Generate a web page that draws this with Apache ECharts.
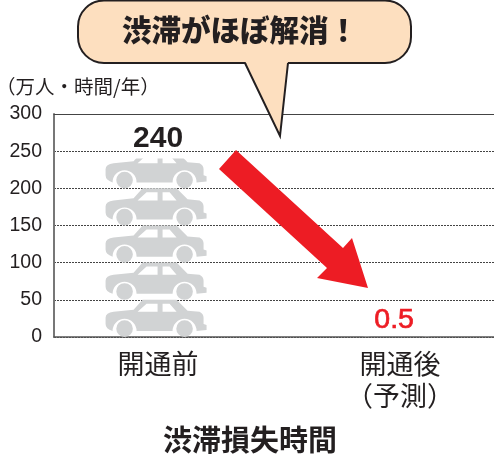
<!DOCTYPE html>
<html>
<head>
<meta charset="utf-8">
<style>html,body{margin:0;padding:0;background:#fff}#chart{width:494px;height:456px}</style>
<script src="https://cdn.jsdelivr.net/npm/echarts@6/dist/echarts.min.js"></script>
</head>
<body>
<div id="chart"></div>
<script>
var categories = ['開通前', '開通後\n（予測）'];
var categoryPos = [0, 1];
var values = [240, 0.5];
var yTicks = [0, 50, 100, 150, 200, 250, 300];

var inkColor = '#231f20';
var redColor = '#ed1c24';
var jpFont = '"Noto Sans CJK JP"';

// car icon, windows are wound the other way so they come out as holes
var carPath = 'path://M0,18 Q0,13 8,12 L28,10 L37,0 L71,0 L82,11 L94,12 Q98,14 98,18 L98,24 L101,25 L101,30 L91,31 ' +
    'A12,12 0 0 0 67,31 L31,31 A12,12 0 0 0 7,31 Q0,29 0,24 Z ' +
    'M32,12 L52,12 L52,4 L41,4 Z M57,12 L71,12 L64,4 L57,4 Z ' +
    'M10.7,28.7 A8.3,8.3 0 1 0 27.3,28.7 A8.3,8.3 0 1 0 10.7,28.7 Z ' +
    'M70.7,28.7 A8.3,8.3 0 1 0 87.3,28.7 A8.3,8.3 0 1 0 70.7,28.7 Z';

var seriesData = categoryPos.map(function (pos, i) {
    return {
        value: [pos, values[i]],
        // the label sits on the whole symbol, so it has to be pulled back down
        label: i === 0
            ? {color: inkColor, fontSize: 30, fontWeight: 'bold', distance: 4, offset: [0, 7]}
            : {color: redColor, fontSize: 28.5, textBorderColor: redColor, textBorderWidth: 0.7, distance: 1, offset: [-6, 36]}
    };
});

var myChart = echarts.init(document.getElementById('chart'), null, {renderer: 'canvas'});

myChart.setOption({
    animation: false,
    backgroundColor: '#fff',
    title: {
        text: '渋滞損失時間',
        left: 245,
        textAlign: 'center',
        top: 420,
        textStyle: {fontFamily: jpFont, fontSize: 29, fontWeight: 'bold', color: inkColor}
    },
    grid: {left: 54, right: 0, top: 114, bottom: 119, outerBoundsMode: 'none'},
    xAxis: [{
        type: 'value',
        min: -0.43,
        max: 1.388,
        splitLine: {show: false},
        axisTick: {show: false},
        axisLine: {show: true, lineStyle: {color: '#555', width: 1.5}},
        axisLabel: {
            customValues: categoryPos,
            formatter: function (v) { return categories[v]; },
            fontFamily: jpFont,
            fontSize: 27,
            lineHeight: 32,
            color: inkColor,
            margin: 11
        }
    }, {
        // solid line along the 300 level
        type: 'value',
        position: 'top',
        min: -0.43,
        max: 1.388,
        splitLine: {show: false},
        axisTick: {show: false},
        axisLabel: {show: false},
        axisLine: {show: true, lineStyle: {color: '#444', width: 1}}
    }],
    yAxis: {
        type: 'value',
        min: yTicks[0],
        max: yTicks[yTicks.length - 1],
        interval: 50,
        name: '（万人・時間/年）',
        nameLocation: 'end',
        nameGap: 18,
        nameTextStyle: {
            fontFamily: jpFont, fontSize: 19.5, color: inkColor,
            align: 'left', padding: [0, 0, 0, -58]
        },
        axisTick: {show: false},
        axisLine: {show: true, onZero: false, lineStyle: {color: '#777', width: 2}},
        axisLabel: {
            fontFamily: '"Liberation Sans"',
            fontSize: 19.5,
            color: inkColor,
            margin: 12
        },
        splitLine: {show: true, lineStyle: {color: '#444', width: 1, type: [2, 1]}}
    },
    series: [{
        type: 'pictorialBar',
        xAxisIndex: 0,
        data: seriesData,
        symbol: carPath,
        symbolSize: [101, 37.3],
        symbolOffset: [-2, 0],
        symbolRepeat: true,
        symbolClip: true,
        symbolMargin: 0,
        itemStyle: {color: '#d1d3d4'},
        label: {show: true, position: 'top', fontFamily: '"Liberation Sans"',
            formatter: function (p) { return p.value[1]; }}
    }],
    graphic: [{
        type: 'polygon',
        z: 100,
        shape: {points: [[236, 150], [343, 248], [352, 238], [368, 288], [317, 278], [327, 268], [219, 169]]},
        style: {fill: redColor}
    }, {
        type: 'rect',
        z: 100,
        shape: {x: 78, y: 0.5, width: 333, height: 62.5, r: 26},
        style: {fill: '#fddfbf', stroke: inkColor, lineWidth: 2}
    }, {
        type: 'polygon',
        z: 101,
        shape: {points: [[245, 61], [288, 61], [280, 136]]},
        style: {fill: '#fddfbf'}
    }, {
        type: 'polyline',
        z: 102,
        shape: {points: [[245, 63], [280, 136], [288, 63]]},
        style: {fill: 'none', stroke: inkColor, lineWidth: 2}
    }, {
        type: 'text',
        z: 103,
        x: 240,
        y: 30,
        style: {
            text: '渋滞がほぼ解消！',
            font: '900 29.5px ' + jpFont,
            fill: inkColor,
            align: 'center',
            verticalAlign: 'middle'
        }
    }]
});
</script>
</body>
</html>
